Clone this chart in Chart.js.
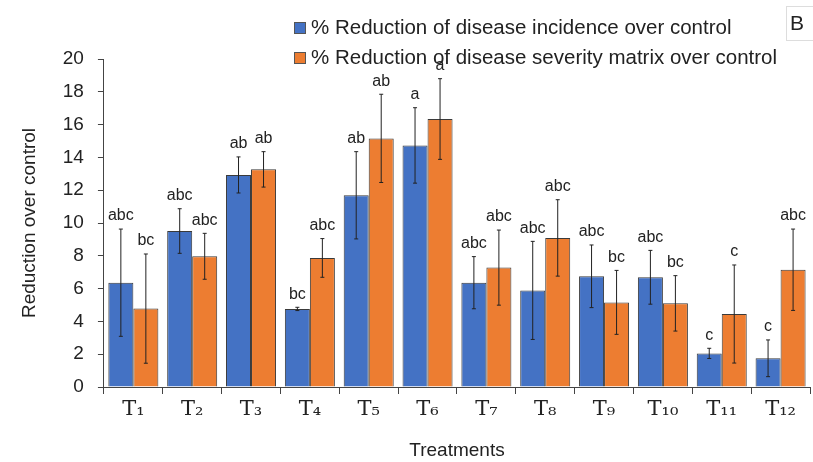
<!DOCTYPE html>
<html>
<head>
<meta charset="utf-8">
<script src="https://cdn.jsdelivr.net/npm/chart.js@4/dist/chart.umd.min.js"></script>
<style>
  body { margin: 0; background: #fff; }
  #wrap { width: 813px; height: 462px; position: relative; }
</style>
</head>
<body>
<div id="wrap"><canvas id="mychart"></canvas></div>
<script>
const treatments = ['T₁', 'T₂', 'T₃', 'T₄', 'T₅', 'T₆', 'T₇', 'T₈', 'T₉', 'T₁₀', 'T₁₁', 'T₁₂']
const incidence = [6.36, 9.51, 12.93, 4.76, 11.69, 14.73, 6.36, 5.89, 6.75, 6.69, 2.05, 1.75]
const incidenceErr = [3.27, 1.36, 1.1, 0.1, 2.66, 2.3, 1.59, 2.99, 1.91, 1.64, 0.31, 1.12]
const incidenceLetters = ['abc', 'abc', 'ab', 'bc', 'ab', 'a', 'abc', 'abc', 'abc', 'abc', 'c', 'c']
const severity = [4.78, 7.97, 13.27, 7.87, 15.16, 16.34, 7.28, 9.09, 5.16, 5.1, 4.45, 7.15]
const severityErr = [3.33, 1.4, 1.08, 1.18, 2.69, 2.46, 2.29, 2.33, 1.95, 1.69, 2.99, 2.48]
const severityLetters = ['bc', 'abc', 'ab', 'abc', 'ab', 'a', 'abc', 'abc', 'bc', 'bc', 'c', 'abc']
const yTicks = [0, 2, 4, 6, 8, 10, 12, 14, 16, 18, 20]

const errs = [incidenceErr, severityErr]
const letters = [incidenceLetters, severityLetters]

// error bars + significance letters
const errorBars = {
  id: 'errorBars',
  afterDatasetsDraw(chart) {
    const ctx = chart.ctx
    const y = chart.scales.y
    ctx.save()
    chart.data.datasets.forEach((ds, i) => {
      const meta = chart.getDatasetMeta(i)
      meta.data.forEach((bar, j) => {
        const v = ds.data[j]
        const e = errs[i][j]
        const top = y.getPixelForValue(v + e)
        const bot = y.getPixelForValue(v - e)
        ctx.strokeStyle = '#222'
        ctx.lineWidth = 1
        ctx.beginPath()
        ctx.moveTo(bar.x, top); ctx.lineTo(bar.x, bot)
        ctx.moveTo(bar.x - 2, top); ctx.lineTo(bar.x + 2, top)
        ctx.moveTo(bar.x - 2, bot); ctx.lineTo(bar.x + 2, bot)
        ctx.stroke()
        ctx.fillStyle = '#222'
        ctx.font = '16px "Liberation Sans", Arial, sans-serif'
        ctx.textAlign = 'center'
        ctx.textBaseline = 'bottom'
        ctx.fillText(letters[i][j], bar.x, top - 5)
      })
    })
    ctx.restore()
  }
}

// stacked legend top right + panel letter
const sideLegend = {
  id: 'sideLegend',
  afterDraw(chart) {
    const ctx = chart.ctx
    ctx.save()
    ctx.font = '20.5px "Liberation Sans", Arial, sans-serif'
    ctx.textBaseline = 'middle'
    ctx.textAlign = 'left'
    chart.data.datasets.forEach((ds, i) => {
      const cy = 28 + i * 30
      ctx.fillStyle = ds.backgroundColor
      ctx.fillRect(294, cy - 6, 12, 12)
      ctx.strokeStyle = '#555'
      ctx.lineWidth = 1
      ctx.strokeRect(294.5, cy - 5.5, 11, 11)
      ctx.fillStyle = '#222'
      ctx.fillText(ds.label, 311, cy)
    })
    ctx.strokeStyle = '#ddd'
    ctx.strokeRect(786.5, 6.5, 40, 34)
    ctx.fillStyle = '#222'
    ctx.font = '21px "Liberation Sans", Arial, sans-serif'
    ctx.fillText('B', 790, 24)
    ctx.restore()
  }
}

new Chart(document.getElementById('mychart'), {
  type: 'bar',
  data: {
    labels: treatments,
    datasets: [{
      label: '% Reduction of disease incidence over control',
      data: incidence,
      backgroundColor: '#4472C4',
      borderColor: '#3a3a3a',
      borderWidth: 1,
      categoryPercentage: 0.85,
      barPercentage: 1
    }, {
      label: '% Reduction of disease severity matrix over control',
      data: severity,
      backgroundColor: '#ED7D31',
      borderColor: '#3a3a3a',
      borderWidth: 1,
      categoryPercentage: 0.85,
      barPercentage: 1
    }]
  },
  options: {
    responsive: true,
    maintainAspectRatio: false,
    animation: false,
    layout: { padding: { top: 59, right: 3, left: 14, bottom: 0 } },
    plugins: {
      legend: { display: false },
      tooltip: { enabled: false }
    },
    scales: {
      x: {
        grid: { display: true, drawOnChartArea: false, offset: true, tickLength: 7, color: '#444' },
        border: { color: '#444' },
        ticks: { color: '#222', font: { size: 21, family: '"DejaVu Serif", serif' }, maxRotation: 0, padding: 3 },
        title: { display: true, text: 'Treatments', color: '#222', font: { size: 19, family: '"Liberation Sans", Arial, sans-serif' }, padding: { top: 14, bottom: 0 } }
      },
      y: {
        min: 0,
        max: 20,
        afterBuildTicks(axis) { axis.ticks = yTicks.map(v => ({ value: v })) },
        grid: { display: true, drawOnChartArea: false, tickLength: 6, color: '#444' },
        border: { color: '#444' },
        ticks: { color: '#222', font: { size: 19, family: '"Liberation Sans", Arial, sans-serif' }, padding: 14 },
        title: { display: true, text: 'Reduction over control', color: '#222', font: { size: 19, family: '"Liberation Sans", Arial, sans-serif' }, padding: { bottom: 8 } }
      }
    }
  },
  plugins: [errorBars, sideLegend]
})
</script>
</body>
</html>
